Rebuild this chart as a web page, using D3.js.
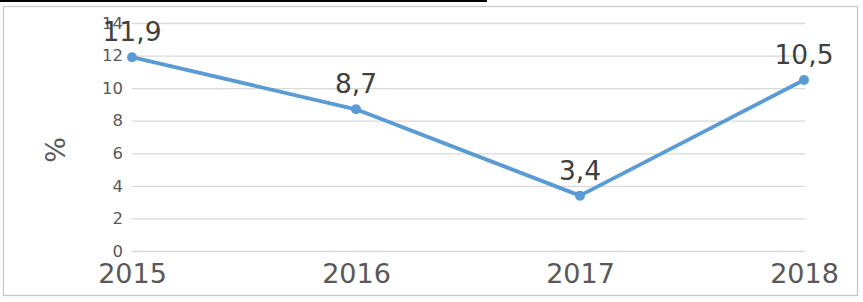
<!DOCTYPE html>
<html>
<head>
<meta charset="utf-8">
<script src="https://cdn.jsdelivr.net/npm/d3@7"></script>
<style>
  html, body { margin: 0; padding: 0; background: #fff; }
  svg { display: block; font-family: "DejaVu Sans", sans-serif; }
</style>
</head>
<body>
<div id="chart"></div>
<script>
/* Line chart: yearly % values with data labels */
(function () {

  /* ── Data ─────────────────────────────────────────────────────────────── */
  const years = ['2015', '2016', '2017', '2018'];
  const values = [11.9, 8.7, 3.4, 10.5];
  const labels = ['11,9', '8,7', '3,4', '10,5'];
  const yTicks = [0, 2, 4, 6, 8, 10, 12, 14];

  /* ── Layout ───────────────────────────────────────────────────────────── */
  const TW = 863, TH = 302;
  const X0 = 132, X1 = 804;
  const Y0 = 251, Y1 = 23;
  const LINE = '#5b9bd5';

  const svg = d3.select('#chart').append('svg')
    .attr('width', TW).attr('height', TH);

  // top rule and chart frame
  svg.append('line')
    .attr('x1', 0).attr('x2', 487).attr('y1', 1).attr('y2', 1)
    .attr('stroke', '#000').attr('stroke-width', 2);
  svg.append('rect')
    .attr('x', 3.5).attr('y', 6.5).attr('width', 854).attr('height', 289)
    .attr('fill', '#fff').attr('stroke', '#c9c9c9').attr('stroke-width', 1.3);

  /* ── Scales ───────────────────────────────────────────────────────────── */
  const x = d3.scalePoint().domain(years).range([X0, X1]);
  const y = d3.scaleLinear().domain([0, 14]).range([Y0, Y1]);

  // gridlines + y ticks
  const yAxis = d3.axisLeft(y).tickValues(yTicks).tickSize(-(X1 - X0 + 1)).tickPadding(9);
  const gy = svg.append('g').attr('transform', `translate(${X0},0)`).call(yAxis);
  gy.select('.domain').remove();
  gy.selectAll('.tick line').attr('stroke', '#d9d9d9').attr('stroke-width', 1.3);
  gy.selectAll('.tick text')
    .attr('fill', '#595959').style('font-size', '16.5px')
    .style('font-family', '"DejaVu Sans", sans-serif');

  // x labels
  const xAxis = d3.axisBottom(x).tickSize(0).tickPadding(0);
  const gx = svg.append('g').attr('transform', `translate(0,${Y0})`).call(xAxis);
  gx.select('.domain').remove();
  gx.selectAll('.tick text')
    .attr('fill', '#595959').attr('dy', 0).attr('y', 32)
    .style('font-size', '27px')
    .style('font-family', '"DejaVu Sans", sans-serif');

  // axis title
  svg.append('text')
    .attr('transform', 'translate(65,150) rotate(-90)')
    .attr('text-anchor', 'middle')
    .attr('fill', '#595959')
    .style('font-size', '27px')
    .text('%');

  /* ── Series ───────────────────────────────────────────────────────────── */
  const pts = years.map((yr, i) => ({ yr, v: values[i], lab: labels[i] }));

  svg.append('path')
    .datum(pts)
    .attr('fill', 'none')
    .attr('stroke', LINE)
    .attr('stroke-width', 3.8)
    .attr('stroke-linejoin', 'round')
    .attr('d', d3.line().x(d => x(d.yr)).y(d => y(d.v)));

  svg.selectAll('circle.pt')
    .data(pts).join('circle')
    .attr('class', 'pt')
    .attr('cx', d => x(d.yr)).attr('cy', d => y(d.v))
    .attr('r', 5).attr('fill', LINE);

  svg.selectAll('text.lab')
    .data(pts).join('text')
    .attr('class', 'lab')
    .attr('x', d => x(d.yr)).attr('y', d => y(d.v) - 16)
    .attr('text-anchor', 'middle')
    .attr('fill', '#404040')
    .style('font-size', '26.5px')
    .text(d => d.lab);

})();
</script>
</body>
</html>
